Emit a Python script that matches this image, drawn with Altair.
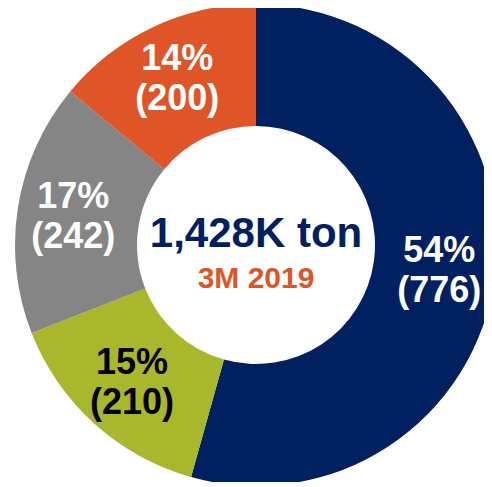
import altair as alt
import pandas as pd

categories = ["A", "B", "C", "D"]
values = [776, 210, 242, 200]
colors = ["#002060", "#A8B72B", "#858585", "#E05528"]
label_colors = ["#FFFFFF", "#000000", "#FFFFFF", "#FFFFFF"]
center_title = "1,428K ton"
center_sub = "3M 2019"

total = sum(values)
df = pd.DataFrame({
    "cat": categories,
    "value": values,
    "idx": list(range(len(values))),
    "label": [f"{round(v / total * 100)}%\n({v})" for v in values],
    "lc": label_colors,
})

CX, CY = 248, 237

base = alt.Chart(df).encode(
    theta=alt.Theta("value:Q", stack=True),
    order=alt.Order("idx:Q"),
)

arcs = base.mark_arc(outerRadius=241, innerRadius=119, stroke=None, x=CX, y=CY).encode(
    color=alt.Color("cat:N", scale=alt.Scale(domain=categories, range=colors), legend=None)
)

labels = base.mark_text(
    radius=185, font="Liberation Sans", fontWeight="bold", fontSize=36,
    lineBreak="\n", lineHeight=40, baseline="middle", align="center", x=CX, y=CY, dy=-19
).encode(
    text="label:N",
    color=alt.Color("lc:N", scale=None),
)

cdf = pd.DataFrame({"t": [center_title], "s": [center_sub]})
title_txt = alt.Chart(cdf).mark_text(
    font="Liberation Sans", fontWeight="bold", fontSize=42, color="#002060",
    baseline="alphabetic", x=CX, y=CY, dy=2
).encode(text="t:N")
sub_txt = alt.Chart(cdf).mark_text(
    font="Liberation Sans", fontWeight="bold", fontSize=30, color="#E05528",
    baseline="alphabetic", x=CX, y=CY, dy=43
).encode(text="s:N")

chart = alt.layer(arcs, labels, title_txt, sub_txt).properties(
    width=476, height=474, padding=0,
    autosize=alt.AutoSizeParams(type="none"),
).configure_view(stroke=None)

chart.save("out.html", embed_options={"renderer": "svg", "actions": False})
